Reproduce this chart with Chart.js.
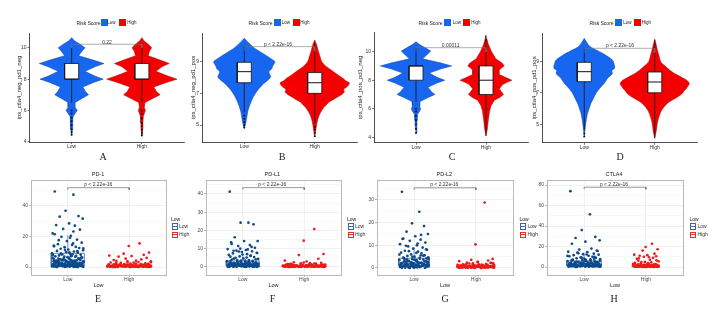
<!DOCTYPE html>
<html><head><meta charset="utf-8">
<script src="https://cdn.jsdelivr.net/npm/chart.js@4.4.1/dist/chart.umd.min.js"></script>
<style>
html,body{margin:0;padding:0;background:#fff;}
#wrap{position:relative;width:721px;height:317px;overflow:hidden;font-family:"Liberation Sans",Arial,sans-serif;}
canvas{position:absolute;}
.t{position:absolute;white-space:nowrap;line-height:1;color:#222;}
.sw{position:absolute;}
</style></head><body><div id="wrap"></div>
<script>
// ---------------- DATA ----------------
const groups = ['Low', 'High'];
const pValues = ['0.22', 'p < 2.22e-16', '0.00011', 'p < 2.22e-16', 'p < 2.22e-16', 'p < 2.22e-16', 'p < 2.22e-16', 'p < 2.22e-16'];
const yTitles = ['ips_ctla4_neg_pd1_neg', 'ips_ctla4_neg_pd1_pos', 'ips_ctla4_pos_pd1_neg', 'ips_ctla4_pos_pd1_pos'];
const geneTitles = ['PD-1', 'PD-L1', 'PD-L2', 'CTLA4'];
const ticksA = [4, 6, 8, 10];
const ticksB = [5, 7, 9];
const ticksC = [4, 6, 8, 10];
const ticksD = [5, 7, 9];

// violin density outlines: value levels and half-widths
const levA = [4.4, 4.8, 5.2, 5.6, 5.8, 6.0, 6.2, 6.5, 6.8, 7.0, 7.2, 7.5, 7.8, 8.0, 8.2, 8.5, 8.8, 9.0, 9.2, 9.5, 9.8, 10.0, 10.2, 10.45, 10.65];
const widA_low = [0, 0.012, 0.015, 0.02, 0.05, 0.08, 0.05, 0.05, 0.16, 0.24, 0.2, 0.16, 0.32, 0.45, 0.33, 0.19, 0.34, 0.46, 0.32, 0.1, 0.15, 0.19, 0.13, 0.04, 0];
const widA_high = [0, 0.012, 0.015, 0.02, 0.035, 0.05, 0.035, 0.045, 0.17, 0.26, 0.21, 0.17, 0.36, 0.5, 0.37, 0.2, 0.29, 0.39, 0.27, 0.09, 0.11, 0.14, 0.1, 0.03, 0];
const levB_low = [4.79, 5.1, 5.53, 5.85, 6.16, 6.5, 6.79, 7.0, 7.2, 7.4, 7.64, 7.85, 8.05, 8.2, 8.37, 8.55, 8.68, 8.85, 9.0, 9.2, 9.53, 9.75, 9.95, 10.2, 10.48];
const widB_low = [0, 0.02, 0.037, 0.05, 0.07, 0.1, 0.13, 0.16, 0.19, 0.23, 0.28, 0.34, 0.375, 0.36, 0.35, 0.39, 0.40, 0.42, 0.435, 0.375, 0.26, 0.18, 0.12, 0.06, 0];
const levB_high = [4.26, 4.6, 4.9, 5.2, 5.53, 5.8, 6.06, 6.3, 6.47, 6.65, 6.79, 6.95, 7.1, 7.25, 7.38, 7.52, 7.67, 7.8, 7.95, 8.16, 8.47, 8.75, 9.0, 9.4, 9.74, 10.1, 10.37];
const widB_high = [0, 0.012, 0.023, 0.035, 0.056, 0.085, 0.12, 0.17, 0.21, 0.28, 0.33, 0.39, 0.42, 0.41, 0.45, 0.48, 0.49, 0.44, 0.4, 0.33, 0.235, 0.15, 0.1, 0.07, 0.047, 0.025, 0];
const levC_low = [4.3, 4.8, 5.2, 5.6, 5.8, 6.0, 6.2, 6.5, 6.8, 7.0, 7.2, 7.5, 7.8, 8.0, 8.2, 8.5, 8.8, 9.0, 9.2, 9.5, 9.8, 10.04, 10.25, 10.5, 10.7];
const widC_low = [0, 0.012, 0.015, 0.02, 0.05, 0.067, 0.05, 0.057, 0.18, 0.27, 0.22, 0.17, 0.3, 0.41, 0.3, 0.19, 0.36, 0.51, 0.36, 0.095, 0.16, 0.21, 0.14, 0.05, 0];
const levC_high = [4.1, 4.6, 5.2, 5.8, 6.2, 6.6, 6.8, 7.0, 7.2, 7.4, 7.7, 7.85, 8.0, 8.15, 8.4, 8.7, 8.85, 9.0, 9.2, 9.5, 10.0, 10.5, 10.9, 11.17];
const widC_high = [0, 0.02, 0.033, 0.05, 0.07, 0.12, 0.2, 0.25, 0.22, 0.19, 0.24, 0.3, 0.37, 0.3, 0.19, 0.19, 0.22, 0.26, 0.23, 0.14, 0.08, 0.035, 0.012, 0];
const levD_low = [4.19, 4.6, 4.94, 5.3, 5.7, 6.0, 6.33, 6.65, 6.97, 7.25, 7.5, 7.72, 7.94, 8.1, 8.26, 8.42, 8.58, 8.75, 8.9, 9.05, 9.22, 9.4, 9.54, 9.75, 9.96, 10.2, 10.5];
const widD_low = [0, 0.01, 0.019, 0.03, 0.047, 0.07, 0.094, 0.13, 0.165, 0.21, 0.26, 0.3, 0.33, 0.37, 0.4, 0.39, 0.43, 0.43, 0.42, 0.41, 0.37, 0.31, 0.26, 0.17, 0.085, 0.04, 0];
const levD_high = [4.09, 4.62, 5.0, 5.26, 5.6, 5.9, 6.2, 6.44, 6.6, 6.76, 6.92, 7.08, 7.2, 7.29, 7.43, 7.57, 7.7, 7.83, 7.95, 8.08, 8.25, 8.47, 8.75, 9.0, 9.4, 9.75, 10.1, 10.44];
const widD_high = [0, 0.024, 0.035, 0.047, 0.07, 0.1, 0.15, 0.21, 0.27, 0.33, 0.38, 0.41, 0.43, 0.45, 0.47, 0.49, 0.48, 0.45, 0.4, 0.35, 0.28, 0.21, 0.14, 0.085, 0.06, 0.038, 0.02, 0];

// box stats: [whisker low, q1, median, q3, whisker high]
const boxA_low = [6.5, 8.0, 8.0, 9.0, 10.0];
const boxA_high = [6.5, 8.0, 8.0, 9.0, 10.1];
const boxB_low = [5.8, 7.67, 8.37, 8.96, 9.96];
const boxB_high = [5.1, 7.0, 7.67, 8.31, 10.2];
const boxC_low = [6.5, 8.0, 9.0, 9.0, 10.28];
const boxC_high = [4.1, 7.0, 8.0, 9.0, 11.1];
const boxD_low = [4.6, 7.72, 8.36, 8.96, 9.86];
const boxD_high = [4.1, 7.01, 7.7, 8.34, 10.4];
const outA_low = [6.0, 5.8, 5.55, 5.3, 5.05, 4.8, 4.6, 4.45];
const outA_high = [6.0, 5.8, 5.5, 5.2, 5.0, 4.75, 4.55, 4.4];
const outB_low = [5.6, 5.4, 5.2, 5.0, 4.85];
const outB_high = [4.9, 4.7, 4.5, 4.3];
const outC_low = [6.0, 5.8, 5.5, 5.2, 4.9, 4.6, 4.3];
const outC_high = [];
const outD_low = [4.4, 4.2];
const outD_high = [];
// bracket height and tick end
const bracketA = [10.23, 9.98];
const bracketB = [9.95, 9.65];
const bracketC = [10.28, 9.98];
const bracketD = [9.86, 9.56];

// bottom panels: expression values per group
const eLow = [49.5, 47.4, 36.9, 33.4, 33.0, 31.7, 28.6, 27.5, 27.1, 25.0, 24.5, 22.0, 20.5, 19.8, 18.0, 17.0, 16.0, 15.0, 14.5, 14.0, 13.2, 13.0, 12.5, 12.0, 11.5, 11.0, 10.6, 10.2, 9.8, 9.4, 9.0, 8.7, 8.3, 8.0, 7.6, 7.3, 7.0, 6.8, 6.5, 6.2, 6.0, 5.7, 5.4, 5.2, 5.0, 4.8, 4.6, 4.4, 4.2, 4.0, 3.9, 3.7, 3.5, 3.3, 3.1, 3.0, 2.8, 2.6, 2.5, 2.3, 2.2, 2.0, 1.9, 1.8, 1.6, 1.5, 1.3, 1.2, 1.1, 1.0, 0.9, 0.8, 0.7, 0.6, 0.5, 0.4, 0.3, 0.2, 0.1, 0.15, 0.35, 0.55, 0.75, 0.95, 1.25, 1.45, 1.7, 2.1, 2.4, 2.7, 3.2, 3.6, 4.1, 4.5, 5.3, 6.1, 7.1, 8.5, 0.05, 0.45, 0.85, 1.35, 2.9, 3.8, 0.25, 0.65, 1.15, 1.55, 2.35, 3.4,
  0.02, 0.12, 0.22, 0.32, 0.42, 0.52, 0.62, 0.72, 0.82, 0.92, 1.02, 1.12, 1.22, 1.32, 1.42, 1.62, 1.82, 2.02, 2.22, 2.42, 2.62, 2.82, 3.02, 3.22, 3.42, 3.62, 3.82, 4.02, 4.32, 4.62, 4.92, 5.22, 5.52, 5.82, 6.32, 6.82, 7.32, 7.82, 8.32, 8.82, 0.07, 0.37, 0.67, 0.97, 1.27, 1.57, 1.87, 2.17, 2.47, 2.77, 9.6, 10.4, 11.3, 12.2, 13.6, 15.5, 17.6, 19.2, 21.5, 23.3];
const eHigh = [15.5, 13.8, 9.5, 8.8, 8.0, 7.5, 7.2, 6.8, 6.0, 5.5, 5.0, 4.6, 4.2, 4.0, 3.8, 3.5, 3.3, 3.0, 2.9, 2.7, 2.5, 2.4, 2.2, 2.1, 2.0, 1.9, 1.8, 1.7, 1.6, 1.5, 1.4, 1.3, 1.2, 1.1, 1.0, 0.95, 0.9, 0.85, 0.8, 0.75, 0.7, 0.65, 0.6, 0.55, 0.5, 0.45, 0.4, 0.35, 0.3, 0.25, 0.2, 0.15, 0.1, 0.05, 0.0, 0.12, 0.32, 0.52, 0.72, 0.92, 1.15, 1.35, 1.55, 1.75, 0.02, 0.22, 0.42, 0.62, 0.82, 1.05, 1.25, 0.08, 0.28, 0.48, 0.68, 0.88, 0.18, 0.38, 0.58, 0.78,
  0.03, 0.13, 0.23, 0.33, 0.43, 0.53, 0.63, 0.73, 0.83, 0.93, 1.03, 1.13, 1.23, 1.43, 1.63, 1.83, 2.3, 2.6, 3.1, 3.6, 0.07, 0.27, 0.47, 0.67, 0.87, 1.07, 1.37, 0.17, 0.57, 0.97];
const fLow = [41.3, 24.3, 24.3, 23.4, 16.3, 14.2, 14.2, 13.5, 12.0, 11.5, 10.5, 9.8, 9.3, 9.0, 8.6, 8.2, 7.8, 7.4, 7.0, 6.6, 6.2, 5.8, 5.4, 5.0, 4.7, 4.4, 4.1, 3.8, 3.5, 3.3, 3.1, 2.9, 2.7, 2.5, 2.3, 2.1, 1.9, 1.8, 1.7, 1.6, 1.5, 1.4, 1.3, 1.2, 1.1, 1.0, 0.9, 0.8, 0.7, 0.6, 0.5, 0.4, 0.3, 0.2, 0.1, 0.05, 0.15, 0.25, 0.35, 0.45, 0.55, 0.65, 0.75, 0.85, 0.95, 1.05, 1.15, 1.25, 1.35, 1.45, 1.65, 1.85, 2.2, 2.6, 3.0, 3.4, 0.12, 0.32, 0.52, 0.72, 0.92, 1.22, 1.52, 2.0, 2.4, 2.8, 3.2, 0.08, 0.28, 0.48, 0.68, 0.88, 1.08, 1.38, 1.75, 0.18, 0.38, 0.58, 0.78, 0.98,
  0.03, 0.23, 0.43, 0.63, 0.83, 1.03, 1.23, 1.43, 1.63, 1.83, 2.03, 2.33, 2.63, 2.93, 3.23, 3.53, 3.83, 4.23, 4.63, 5.13, 5.63, 6.13, 6.83, 7.63, 8.43, 0.13, 0.53, 0.93, 1.33, 1.73, 10.1, 11.0, 12.6, 9.6, 8.9];
const fHigh = [20.8, 14.4, 7.1, 6.5, 4.5, 3.5, 3.0, 2.6, 2.3, 2.0, 1.8, 1.6, 1.5, 1.4, 1.3, 1.2, 1.1, 1.0, 0.9, 0.8, 0.7, 0.6, 0.5, 0.45, 0.4, 0.35, 0.3, 0.25, 0.2, 0.15, 0.1, 0.05, 0.0, 0.12, 0.22, 0.32, 0.42, 0.52, 0.62, 0.72, 0.82, 0.92, 1.05, 1.15, 1.25, 0.08, 0.18, 0.28, 0.38, 0.48, 0.58, 0.68, 0.78, 0.88, 0.02, 0.14, 0.26, 0.36, 0.46, 0.56, 0.66, 0.76, 0.95, 1.35, 1.7, 2.1, 0.06, 0.16, 0.24, 0.34,
  0.01, 0.11, 0.21, 0.31, 0.41, 0.51, 0.61, 0.71, 0.81, 0.91, 1.01, 1.21, 1.41, 1.61, 1.91, 2.4, 0.04, 0.19, 0.39, 0.59, 0.79, 0.99, 1.19, 0.09, 0.44];
const gLow = [33.6, 24.8, 19.7, 18.5, 16.0, 15.0, 14.0, 13.0, 12.5, 12.0, 11.2, 10.5, 10.0, 9.5, 9.0, 8.5, 8.0, 7.6, 7.2, 6.8, 6.4, 6.0, 5.6, 5.3, 5.0, 4.7, 4.4, 4.1, 3.9, 3.7, 3.5, 3.3, 3.1, 2.9, 2.7, 2.5, 2.3, 2.1, 2.0, 1.9, 1.8, 1.7, 1.6, 1.5, 1.4, 1.3, 1.2, 1.1, 1.0, 0.9, 0.8, 0.7, 0.6, 0.5, 0.4, 0.3, 0.2, 0.1, 0.15, 0.35, 0.55, 0.75, 0.95, 1.15, 1.35, 1.55, 1.75, 2.2, 2.6, 3.0, 3.4, 3.8, 4.2, 0.25, 0.45, 0.65, 0.85, 1.05, 1.25, 1.45, 1.65, 2.4, 2.8, 3.2, 0.05, 0.5, 1.0, 1.5, 2.0, 2.5, 3.6, 4.6, 5.5,
  0.02, 0.22, 0.42, 0.62, 0.82, 1.02, 1.22, 1.42, 1.62, 1.82, 2.02, 2.32, 2.62, 2.92, 3.22, 3.52, 3.82, 4.12, 4.52, 4.92, 5.42, 5.92, 6.62, 7.42, 8.22, 9.8, 10.8, 12.8, 14.6, 0.12];
const gHigh = [28.9, 10.4, 4.0, 3.6, 3.3, 3.0, 2.7, 2.4, 2.2, 2.0, 1.8, 1.6, 1.5, 1.4, 1.3, 1.2, 1.1, 1.0, 0.9, 0.8, 0.7, 0.6, 0.5, 0.4, 0.3, 0.2, 0.1, 0.0, 0.05, 0.15, 0.25, 0.35, 0.45, 0.55, 0.65, 0.75, 0.85, 0.95, 1.05, 1.15, 1.25, 1.35, 0.12, 0.22, 0.32, 0.42, 0.52, 0.62, 0.72, 0.82, 0.92, 1.7, 2.1, 2.6, 0.08, 0.18, 0.28, 0.38, 0.48, 0.58, 0.68, 0.78, 0.02, 0.5, 1.0,
  0.03, 0.13, 0.23, 0.33, 0.43, 0.53, 0.63, 0.73, 0.83, 0.93, 1.03, 1.23, 1.43, 1.63, 1.93, 2.3, 0.07, 0.27, 0.47, 0.67, 0.87, 1.07, 0.17, 0.57, 0.97];
const hLow = [74, 51.4, 36, 29.3, 28.3, 26, 24.7, 22.7, 18, 17, 16, 15, 14.5, 14, 13, 12.5, 12, 11.5, 11, 10.5, 10, 9.5, 9, 8.5, 8, 7.6, 7.2, 6.8, 6.4, 6, 5.7, 5.4, 5.1, 4.8, 4.5, 4.2, 4, 3.8, 3.6, 3.4, 3.2, 3, 2.8, 2.6, 2.4, 2.2, 2, 1.9, 1.8, 1.7, 1.6, 1.5, 1.4, 1.3, 1.2, 1.1, 1, 0.9, 0.8, 0.7, 0.6, 0.5, 0.4, 0.3, 0.2, 0.1, 0.5, 1, 1.5, 2, 2.5, 3, 3.5, 4.4, 5.2, 6.2, 7, 8.2, 9.2, 0.3, 0.8, 1.3, 1.8, 2.3, 2.9, 3.3, 3.9, 4.6,
  0.05, 0.25, 0.45, 0.65, 0.85, 1.05, 1.25, 1.45, 1.65, 1.85, 2.05, 2.35, 2.65, 2.95, 3.25, 3.55, 3.85, 4.15, 4.65, 5.15, 5.65, 6.15, 6.65, 7.4, 8.6, 9.8, 10.8, 12.2, 13.5, 15.6];
const hHigh = [22.7, 19.5, 17.3, 16, 13, 12, 11.5, 11, 10.5, 10, 9, 8, 7, 6, 5.5, 5, 4.5, 4, 3.6, 3.2, 2.8, 2.5, 2.2, 2, 1.8, 1.6, 1.4, 1.3, 1.2, 1.1, 1, 0.9, 0.8, 0.7, 0.6, 0.5, 0.4, 0.3, 0.2, 0.1, 0, 0.15, 0.35, 0.55, 0.75, 0.95, 1.15, 1.35, 1.55, 1.75, 0.25, 0.45, 0.65, 0.85, 1.05, 1.25, 0.05, 0.6, 1.5, 2.4, 3.4,
  0.02, 0.12, 0.22, 0.32, 0.42, 0.52, 0.62, 0.72, 0.82, 0.92, 1.12, 1.32, 1.52, 1.72, 2.1, 2.6, 3.0, 3.8, 4.8, 6.5, 8.5, 9.5];
// jitter offsets (fraction of jitter half-width)
const jitter = [-0.82,0.35,-0.14,0.67,-0.51,0.93,0.08,-0.73,0.44,-0.29,0.76,-0.95,0.19,-0.4,0.58,-0.06,0.87,-0.62,0.27,-0.88,0.5,-0.2,0.71,-0.45,0.03,0.96,-0.68,0.38,-0.11,0.62,-0.99,0.15,-0.35,0.81,-0.55,0.24,-0.78,0.47,-0.02,0.9,-0.25,0.66,-0.9,0.11,-0.48,0.79,-0.16,0.55,-0.7,0.31,-0.58,0.98,-0.08,0.42,-0.84,0.2,-0.38,0.73,-0.6,0.06,0.85,-0.22,0.52,-0.93,0.29,-0.43,0.64,-0.12,0.92,-0.66,0.17,-0.5,0.83,-0.31,0.4,-0.76,0.1,0.6,-0.18,0.97,-0.86,0.33,-0.57,0.14];
// box stats bottom: [whisker low, q1, median, q3, whisker high]
const boxE_low = [0, 0.85, 3.9, 9.0, 21];
const boxE_high = [0, 0.1, 0.5, 1.3, 3.1];
const boxF_low = [0, 0.7, 2.0, 3.3, 7.2];
const boxF_high = [0, 0.05, 0.3, 0.55, 1.3];
const boxG_low = [0, 1.0, 2.3, 4.3, 9.2];
const boxG_high = [0, 0.2, 0.6, 1.0, 1.6];
const boxH_low = [0, 1.0, 2.9, 5.9, 13.2];
const boxH_high = [0, 0.2, 0.8, 1.5, 3.4];
const majE = [0, 20, 40], minE = [10, 30, 50];
const majF = [0, 10, 20, 30, 40], minF = [5, 15, 25, 35, 45];
const majG = [0, 10, 20, 30], minG = [5, 15, 25, 35];
const majH = [0, 20, 40, 60, 80], minH = [10, 30, 50, 70];
const bracketE = [52, 50.5];
const bracketF = [43.5, 42.3];
const bracketG = [35.4, 34.4];
const bracketH = [77.8, 75.8];

// ---------------- RENDER ----------------
const FONT = '"Liberation Sans", Arial, sans-serif';
Chart.defaults.font.family = FONT;
const wrap = document.getElementById('wrap');
const BLUE = '#1666f0', RED = '#f50000';
const BLUE_EDGE = '#0b3f9e', RED_EDGE = '#a80000';

function T(txt, x, y, size, anchor, family, color) {
  const d = document.createElement('div');
  d.className = 't'; d.textContent = txt;
  d.style.left = x + 'px'; d.style.top = y + 'px'; d.style.fontSize = size + 'px';
  d.style.transform = anchor === 'l' ? 'translate(0,-50%)' : 'translate(-50%,-50%)';
  if (family) d.style.fontFamily = family;
  if (color) d.style.color = color;
  wrap.appendChild(d);
}
function SW(x, y, w, h, css) {
  const d = document.createElement('div');
  d.className = 'sw';
  d.style.left = x + 'px'; d.style.top = y + 'px'; d.style.width = w + 'px'; d.style.height = h + 'px';
  Object.assign(d.style, css || {});
  wrap.appendChild(d);
  return d;
}
function canvasAt(r) {
  const c = document.createElement('canvas');
  c.width = r.w; c.height = r.h;
  c.style.left = r.l + 'px'; c.style.top = r.t + 'px';
  c.style.width = r.w + 'px'; c.style.height = r.h + 'px';
  wrap.appendChild(c);
  return c;
}
function violinPts(c, lev, wid) {
  const p = [];
  for (let i = 0; i < lev.length; i++) p.push({x: c + wid[i], y: lev[i]});
  for (let i = lev.length - 1; i >= 0; i--) p.push({x: c - wid[i], y: lev[i]});
  p.push(p[0]);
  return p;
}
function rectPts(c, hw, y0, y1) {
  return [{x: c - hw, y: y0}, {x: c + hw, y: y0}, {x: c + hw, y: y1}, {x: c - hw, y: y1}, {x: c - hw, y: y0}];
}
function lineDS(pts, color, w, order) {
  return {type: 'scatter', data: pts, showLine: true, fill: false, borderColor: color, borderWidth: w, pointRadius: 0, order: order};
}

function violinPanel(p) {
  const r = p.rect, a = p.area;
  const titleSize = 6;
  const axisLeft = p.titleX - titleSize * 1.2 / 2;
  const yWidth = a.l - axisLeft;
  const xH = 10;
  const ds = [];
  const cols = [BLUE, RED], edges = [BLUE_EDGE, RED_EDGE];
  [0, 1].forEach(g => {
    const c = g + 1, b = p.boxes[g], bw = 0.1;
    ds.push({type: 'scatter', data: violinPts(c, p.levels[g], p.widths[g]), showLine: true, fill: 'shape',
      backgroundColor: cols[g], borderColor: edges[g], borderWidth: 0.5, pointRadius: 0, tension: p.tension, order: 5});
    ds.push(lineDS([{x: c, y: b[0]}, {x: c, y: b[4]}], '#111', 0.8, 4));
    ds.push({type: 'scatter', data: rectPts(c, bw, b[1], b[3]), showLine: true, fill: 'shape',
      backgroundColor: '#ffffff', borderColor: '#111', borderWidth: 0.8, pointRadius: 0, order: 3});
    ds.push(lineDS([{x: c - bw, y: b[2]}, {x: c + bw, y: b[2]}], '#111', 1, 2));
    ds.push({type: 'scatter', data: p.outliers[g].map(v => ({x: c, y: v})), pointRadius: 1, pointBackgroundColor: '#111', pointBorderWidth: 0, order: 1});
  });
  const br = p.bracket;
  ds.push(lineDS([{x: 1, y: br[1]}, {x: 1, y: br[0]}, {x: 2, y: br[0]}, {x: 2, y: br[1]}], '#777', 0.6, 0));
  new Chart(canvasAt(r), {
    type: 'scatter',
    data: {datasets: ds},
    options: {
      responsive: false, animation: false, devicePixelRatio: 1,
      layout: {autoPadding: false, padding: {left: axisLeft - r.l, right: r.l + r.w - a.r, top: a.t - r.t, bottom: r.t + r.h - a.b - xH}},
      plugins: {legend: {display: false}, tooltip: {enabled: false}},
      scales: {
        x: {type: 'linear', min: 0.4, max: 2.6,
          afterBuildTicks: s => { s.ticks = [{value: 1}, {value: 2}]; },
          afterFit: s => { s.height = xH; },
          ticks: {callback: v => groups[v - 1] || '', font: {size: 5}, color: '#333', padding: 0, maxRotation: 0, autoSkip: false},
          grid: {drawOnChartArea: false, drawTicks: true, tickLength: 2, color: '#222', lineWidth: 0.6},
          border: {display: true, color: '#222', width: 0.8}},
        y: {type: 'linear', min: p.yMin, max: p.yMax,
          afterBuildTicks: s => { s.ticks = p.yTicks.map(v => ({value: v})); },
          afterFit: s => { s.width = yWidth; },
          ticks: {font: {size: 5}, color: '#333', padding: 1},
          title: {display: true, text: p.yTitle, font: {size: titleSize}, color: '#222', padding: 0},
          grid: {drawOnChartArea: false, drawTicks: true, tickLength: 2, color: '#222', lineWidth: 0.6},
          border: {display: true, color: '#222', width: 0.8}}
      }
    }
  });
}

function boxPanel(p) {
  const r = p.rect, a = p.area, yWidth = 14, xH = 14;
  const ds = [];
  const ptCols = ['#0c4a8c', '#ee1a1a'], boxCols = ['#3a6aa6', '#e52a2a'];
  [0, 1].forEach(g => {
    const c = g + 1, b = p.boxes[g], bw = p.boxW[g], jw = p.jitW[g], off = g * 37;
    ds.push(lineDS([{x: c, y: b[0]}, {x: c, y: b[1]}], boxCols[g], 0.7, 6));
    ds.push(lineDS([{x: c, y: b[3]}, {x: c, y: b[4]}], boxCols[g], 0.7, 6));
    ds.push(lineDS(rectPts(c, bw, b[1], b[3]), boxCols[g], 0.8, 5));
    ds.push(lineDS([{x: c - bw, y: b[2]}, {x: c + bw, y: b[2]}], boxCols[g], 0.8, 5));
    ds.push({type: 'scatter', data: p.values[g].map((v, i) => ({x: c + jitter[(i + off) % jitter.length] * jw, y: v})),
      pointRadius: 1.35, pointBackgroundColor: ptCols[g], pointBorderWidth: 0, order: 2});
  });
  const br = p.bracket;
  ds.push(lineDS([{x: 1, y: br[1]}, {x: 1, y: br[0]}, {x: 2, y: br[0]}, {x: 2, y: br[1]}], '#555', 0.6, 0));
  const all = p.maj.concat(p.min);
  new Chart(canvasAt(r), {
    type: 'scatter',
    data: {datasets: ds},
    options: {
      responsive: false, animation: false, devicePixelRatio: 1,
      layout: {autoPadding: false, padding: {left: a.l - r.l - yWidth, right: r.l + r.w - a.r, top: a.t - r.t, bottom: r.t + r.h - a.b - xH}},
      plugins: {legend: {display: false}, tooltip: {enabled: false}},
      scales: {
        x: {type: 'linear', min: 0.4, max: 2.6,
          afterBuildTicks: s => { s.ticks = [{value: 1}, {value: 2}]; },
          afterFit: s => { s.height = xH; },
          ticks: {callback: v => groups[v - 1] || '', font: {size: 5}, color: '#4d4d4d', padding: 0, maxRotation: 0, autoSkip: false},
          title: {display: true, text: 'Low', font: {size: 5.5}, color: '#222', padding: 0},
          grid: {color: '#e8e8e8', lineWidth: 0.6, tickLength: 2, tickColor: '#888'},
          border: {display: true, color: '#a8a8a8', width: 0.8}},
        y: {type: 'linear', min: p.yMin, max: p.yMax,
          afterBuildTicks: s => { s.ticks = all.map(v => ({value: v})); },
          afterFit: s => { s.width = yWidth; },
          ticks: {callback: v => p.maj.includes(v) ? String(v) : '', font: {size: 5}, color: '#4d4d4d', padding: 1, autoSkip: false},
          grid: {color: c => (c.tick && p.maj.includes(c.tick.value)) ? '#e6e6e6' : '#f3f3f3', lineWidth: 0.6, tickLength: 2,
            tickColor: c => (c.tick && p.maj.includes(c.tick.value)) ? '#888' : 'rgba(0,0,0,0)'},
          border: {display: true, color: '#a8a8a8', width: 0.8}},
        xTop: {type: 'linear', position: 'top', min: 0, max: 1, afterFit: s => { s.height = 0; },
          ticks: {display: false}, grid: {drawOnChartArea: false, drawTicks: false}, border: {display: true, color: '#a8a8a8', width: 0.8}},
        yRight: {type: 'linear', position: 'right', min: 0, max: 1, afterFit: s => { s.width = 0; },
          ticks: {display: false}, grid: {drawOnChartArea: false, drawTicks: false}, border: {display: true, color: '#a8a8a8', width: 0.8}}
      }
    }
  });
}

// top violin panels
const topPanels = [
  {rect: {l: 0, t: 0, w: 188, h: 152}, area: {l: 29.5, r: 184, t: 33, b: 142}, titleX: 19, yMin: 3.98, yMax: 10.95, yTicks: ticksA,
   levels: [levA, levA], widths: [widA_low, widA_high], boxes: [boxA_low, boxA_high], outliers: [outA_low, outA_high], bracket: bracketA, tension: 0},
  {rect: {l: 185, t: 0, w: 175, h: 152}, area: {l: 202, r: 357, t: 33, b: 142}, titleX: 193.5, yMin: 3.93, yMax: 10.81, yTicks: ticksB,
   levels: [levB_low, levB_high], widths: [widB_low, widB_high], boxes: [boxB_low, boxB_high], outliers: [outB_low, outB_high], bracket: bracketB, tension: 0.3},
  {rect: {l: 352, t: 0, w: 178, h: 152}, area: {l: 374, r: 528, t: 32, b: 142.7}, titleX: 360, yMin: 3.62, yMax: 11.38, yTicks: ticksC,
   levels: [levC_low, levC_high], widths: [widC_low, widC_high], boxes: [boxC_low, boxC_high], outliers: [outC_low, outC_high], bracket: bracketC, tension: 0},
  {rect: {l: 528, t: 0, w: 193, h: 152}, area: {l: 542, r: 697, t: 33, b: 142.7}, titleX: 534.5, yMin: 3.81, yMax: 10.84, yTicks: ticksD,
   levels: [levD_low, levD_high], widths: [widD_low, widD_high], boxes: [boxD_low, boxD_high], outliers: [outD_low, outD_high], bracket: bracketD, tension: 0.3}
];
topPanels.forEach((p, i) => { p.yTitle = yTitles[i]; violinPanel(p); });

// bottom box/jitter panels
const botPanels = [
  {rect: {l: 0, t: 170, w: 172, h: 125}, area: {l: 31, r: 166, t: 180.5, b: 275}, yMin: -5.2, yMax: 56.7, maj: majE, min: minE,
   values: [eLow, eHigh], boxes: [boxE_low, boxE_high], boxW: [0.27, 0.37], jitW: [0.26, 0.36], bracket: bracketE},
  {rect: {l: 176, t: 170, w: 172, h: 125}, area: {l: 206, r: 341, t: 180.5, b: 275}, yMin: -4.4, yMax: 47.4, maj: majF, min: minF,
   values: [fLow, fHigh], boxes: [boxF_low, boxF_high], boxW: [0.27, 0.36], jitW: [0.26, 0.35], bracket: bracketF},
  {rect: {l: 350, t: 170, w: 168, h: 125}, area: {l: 377, r: 513, t: 180.5, b: 275}, yMin: -3.1, yMax: 38.6, maj: majG, min: minG,
   values: [gLow, gHigh], boxes: [boxG_low, boxG_high], boxW: [0.25, 0.31], jitW: [0.24, 0.3], bracket: bracketG},
  {rect: {l: 522, t: 170, w: 166, h: 125}, area: {l: 547, r: 683, t: 180.5, b: 275}, yMin: -7.8, yMax: 84.4, maj: majH, min: minH,
   values: [hLow, hHigh], boxes: [boxH_low, boxH_high], boxW: [0.28, 0.22], jitW: [0.27, 0.21], bracket: bracketH}
];
botPanels.forEach(p => boxPanel(p));

// ---- texts (legends, p-values, titles, letters) ----
const topLegend = [
  {rs: 88.5, b: 104, lo: 111.5, r: 122.5, hi: 132},
  {rs: 260.5, b: 277, lo: 286, r: 296, hi: 305},
  {rs: 430.5, b: 447.5, lo: 457, r: 466.5, hi: 476},
  {rs: 601.5, b: 618, lo: 627.5, r: 637, hi: 646.5}
];
topLegend.forEach(L => {
  T('Risk Score', L.rs, 22.5, 5);
  SW(L.b - 3.5, 19, 7, 7, {background: BLUE});
  T(groups[0], L.lo, 22.5, 4.5);
  SW(L.r - 3.5, 19, 7, 7, {background: RED});
  T(groups[1], L.hi, 22.5, 4.5);
});
const pTop = [[107, 41.5], [278, 43.5], [450.7, 44.5], [620, 45]];
pTop.forEach((q, i) => T(pValues[i], q[0], q[1], 5, null, null, '#333'));
const pBot = [[98.3, 184.3], [272.3, 184.3], [444.3, 184.3], [614, 184]];
pBot.forEach((q, i) => T(pValues[4 + i], q[0], q[1], 5, null, null, '#333'));
const gtX = [98, 272.3, 444.3, 614];
gtX.forEach((x, i) => T(geneTitles[i], x, 175, 5.5));
const letters = [['A', 103, 157], ['B', 282, 157], ['C', 452, 157], ['D', 620, 157], ['E', 98, 299], ['F', 272.5, 299], ['G', 445, 299], ['H', 614, 299]];
const SERIF = '"Liberation Serif", "Times New Roman", serif';
letters.forEach(l => T(l[0], l[1], l[2], 10, null, SERIF, '#222'));
const legBot = [171, 347, 519.5, 689.5];
const keyCols = ['#3a6aa6', '#e52a2a'];
legBot.forEach(x => {
  T('Low', x, 219, 5, 'l');
  [226, 234.3].forEach((y, g) => {
    const k = SW(x + 0.5, y - 2.8, 4.4, 4.4, {border: '0.8px solid ' + keyCols[g], background: '#fff'});
    const m = document.createElement('div');
    m.style.cssText = 'position:absolute;left:0;right:0;top:1.8px;height:0.8px;background:' + keyCols[g];
    k.appendChild(m);
    T(groups[g], x + 8, y, 5, 'l', null, '#333');
  });
});
</script></body></html>
